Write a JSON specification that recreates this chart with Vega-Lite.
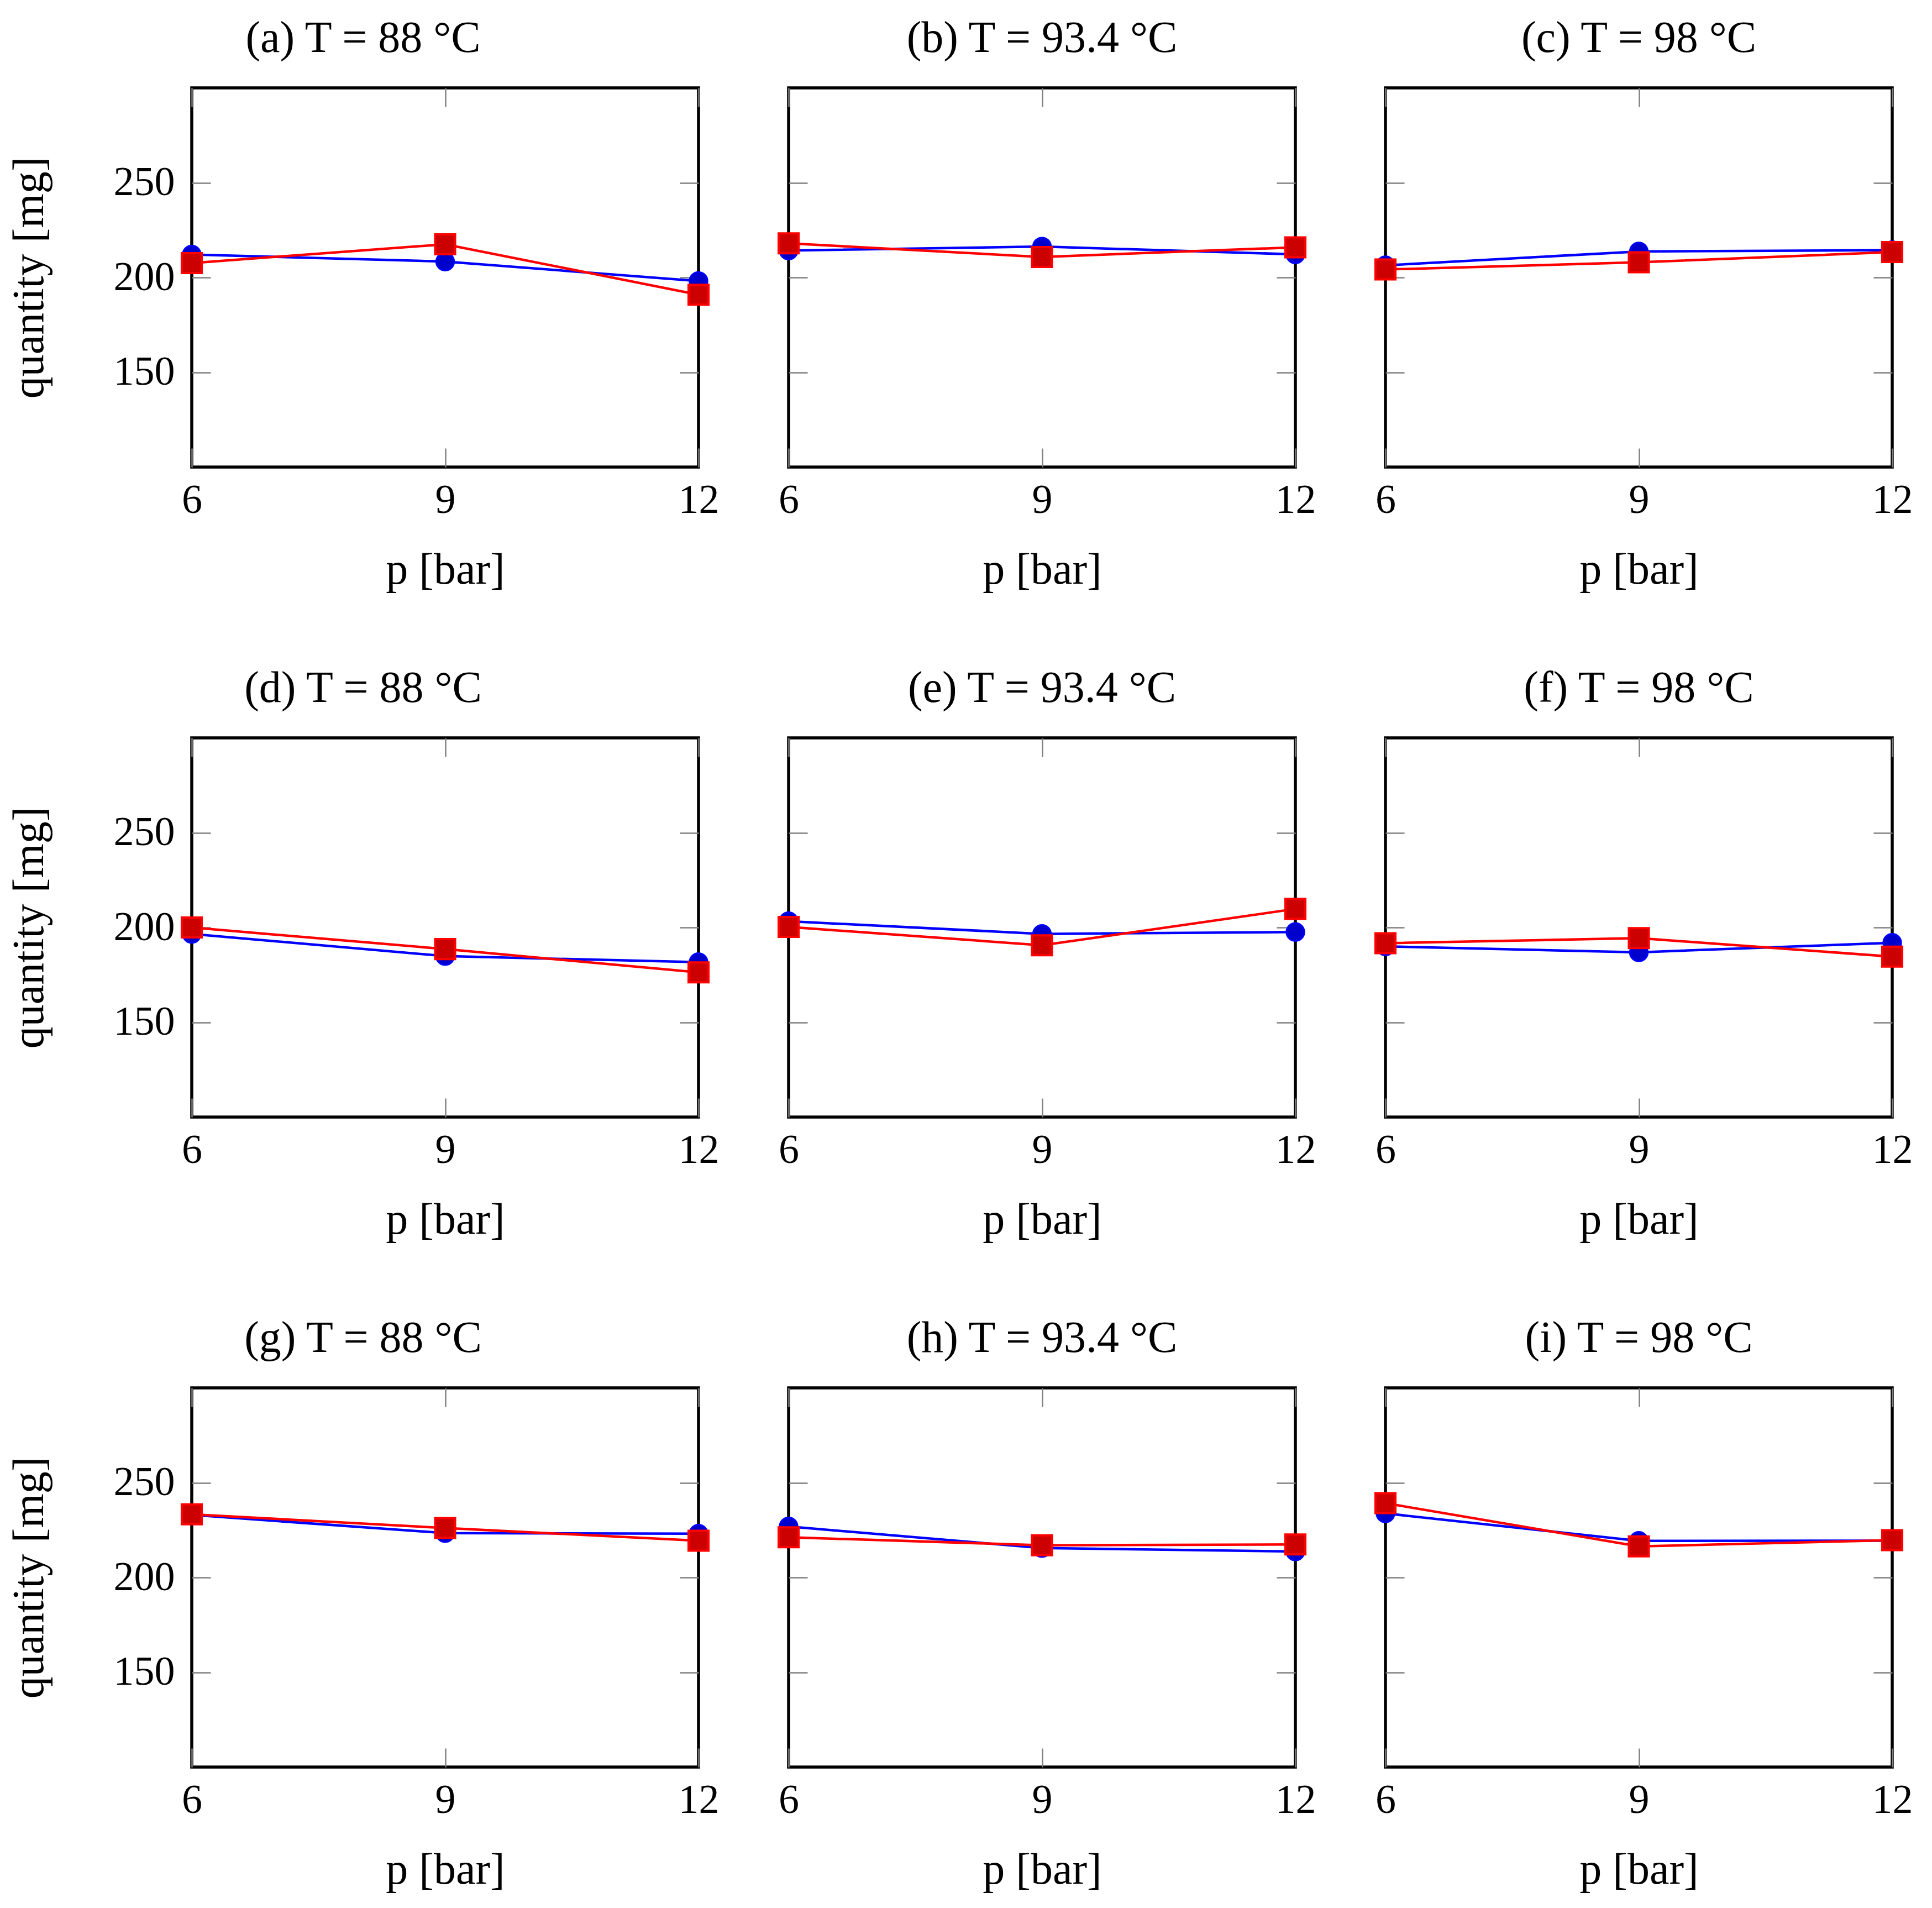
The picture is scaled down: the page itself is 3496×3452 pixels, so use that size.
{
  "$schema": "https://vega.github.io/schema/vega-lite/v6.json",
  "background": "white",
  "padding": {"left": 10, "top": 27, "right": 10, "bottom": 5},
  "data": {
    "values": [
      {"panel": "a", "series": "A", "p": 6, "q": 212.1},
      {"panel": "a", "series": "A", "p": 9, "q": 208.4},
      {"panel": "a", "series": "A", "p": 12, "q": 198.1},
      {"panel": "a", "series": "B", "p": 6, "q": 207.6},
      {"panel": "a", "series": "B", "p": 9, "q": 217.5},
      {"panel": "a", "series": "B", "p": 12, "q": 190.9},
      {"panel": "b", "series": "A", "p": 6, "q": 214.2},
      {"panel": "b", "series": "A", "p": 9, "q": 216.3},
      {"panel": "b", "series": "A", "p": 12, "q": 212.2},
      {"panel": "b", "series": "B", "p": 6, "q": 218.0},
      {"panel": "b", "series": "B", "p": 9, "q": 210.8},
      {"panel": "b", "series": "B", "p": 12, "q": 215.9},
      {"panel": "c", "series": "A", "p": 6, "q": 206.4},
      {"panel": "c", "series": "A", "p": 9, "q": 213.7},
      {"panel": "c", "series": "A", "p": 12, "q": 214.4},
      {"panel": "c", "series": "B", "p": 6, "q": 204.2},
      {"panel": "c", "series": "B", "p": 9, "q": 208.0},
      {"panel": "c", "series": "B", "p": 12, "q": 213.4},
      {"panel": "d", "series": "A", "p": 6, "q": 196.6},
      {"panel": "d", "series": "A", "p": 9, "q": 184.9},
      {"panel": "d", "series": "A", "p": 12, "q": 181.7},
      {"panel": "d", "series": "B", "p": 6, "q": 200.0},
      {"panel": "d", "series": "B", "p": 9, "q": 188.6},
      {"panel": "d", "series": "B", "p": 12, "q": 176.3},
      {"panel": "e", "series": "A", "p": 6, "q": 203.3},
      {"panel": "e", "series": "A", "p": 9, "q": 196.6},
      {"panel": "e", "series": "A", "p": 12, "q": 197.6},
      {"panel": "e", "series": "B", "p": 6, "q": 200.3},
      {"panel": "e", "series": "B", "p": 9, "q": 190.6},
      {"panel": "e", "series": "B", "p": 12, "q": 209.8},
      {"panel": "f", "series": "A", "p": 6, "q": 190.0},
      {"panel": "f", "series": "A", "p": 9, "q": 186.9},
      {"panel": "f", "series": "A", "p": 12, "q": 191.9},
      {"panel": "f", "series": "B", "p": 6, "q": 191.7},
      {"panel": "f", "series": "B", "p": 9, "q": 194.4},
      {"panel": "f", "series": "B", "p": 12, "q": 184.6},
      {"panel": "g", "series": "A", "p": 6, "q": 233.0},
      {"panel": "g", "series": "A", "p": 9, "q": 223.4},
      {"panel": "g", "series": "A", "p": 12, "q": 223.1},
      {"panel": "g", "series": "B", "p": 6, "q": 233.3},
      {"panel": "g", "series": "B", "p": 9, "q": 226.1},
      {"panel": "g", "series": "B", "p": 12, "q": 219.4},
      {"panel": "h", "series": "A", "p": 6, "q": 226.9},
      {"panel": "h", "series": "A", "p": 9, "q": 215.5},
      {"panel": "h", "series": "A", "p": 12, "q": 213.7},
      {"panel": "h", "series": "B", "p": 6, "q": 221.2},
      {"panel": "h", "series": "B", "p": 9, "q": 217.0},
      {"panel": "h", "series": "B", "p": 12, "q": 217.4},
      {"panel": "i", "series": "A", "p": 6, "q": 233.8},
      {"panel": "i", "series": "A", "p": 9, "q": 219.3},
      {"panel": "i", "series": "A", "p": 12, "q": 219.4},
      {"panel": "i", "series": "B", "p": 6, "q": 239.2},
      {"panel": "i", "series": "B", "p": 9, "q": 216.4},
      {"panel": "i", "series": "B", "p": 12, "q": 219.7}
    ]
  },
  "columns": 3,
  "bounds": "flush",
  "spacing": {"row": 490, "column": 163},
  "concat": [
    {
      "title": {"text": "(a) T = 88 °C", "frame": "bounds"},
      "width": 917, "height": 686,
      "transform": [{"filter": "datum.panel == 'a'"}],
      "encoding": {
        "x": {"field": "p", "type": "quantitative", "scale": {"domain": [6, 12]}, "axis": null},
        "y": {"field": "q", "type": "quantitative", "scale": {"domain": [100, 300]}, "axis": null}
      },
      "layer": [
        {"transform": [{"filter": "datum.series == 'A'"}], "mark": {"type": "line", "color": "#0000ff", "strokeWidth": 4.5},
         "encoding": {
           "x": {"field": "p", "type": "quantitative", "scale": {"domain": [6, 12]}, "axis": {"title": "p [bar]", "values": [6, 9, 12]}},
           "y": {"field": "q", "type": "quantitative", "scale": {"domain": [100, 300]}, "axis": {"title": "quantity [mg]", "values": [150, 200, 250]}}
         }},
        {"transform": [{"filter": "datum.series == 'A'"}], "mark": {"type": "point", "shape": "circle", "filled": true, "fill": "#0000cc", "stroke": "#0000ff", "strokeWidth": 3, "size": 1050, "opacity": 1}},
        {"transform": [{"filter": "datum.series == 'B'"}], "mark": {"type": "line", "color": "#ff0000", "strokeWidth": 4.5}},
        {"transform": [{"filter": "datum.series == 'B'"}], "mark": {"type": "square", "filled": true, "fill": "#cc0000", "stroke": "#ff0000", "strokeWidth": 4, "size": 1300, "opacity": 1},
         "encoding": {
           "x": {"field": "p", "type": "quantitative", "scale": {"domain": [6, 12]}, "axis": {"orient": "top", "values": [6, 9, 12], "labels": false, "title": null}},
           "y": {"field": "q", "type": "quantitative", "scale": {"domain": [100, 300]}, "axis": {"orient": "right", "values": [150, 200, 250], "labels": false, "title": null}}
         }}
      ],
      "resolve": {"axis": {"x": "independent", "y": "independent"}}
    },
    {
      "title": {"text": "(b) T = 93.4 °C"},
      "width": 917, "height": 686,
      "transform": [{"filter": "datum.panel == 'b'"}],
      "encoding": {
        "x": {"field": "p", "type": "quantitative", "scale": {"domain": [6, 12]}, "axis": null},
        "y": {"field": "q", "type": "quantitative", "scale": {"domain": [100, 300]}, "axis": null}
      },
      "layer": [
        {"transform": [{"filter": "datum.series == 'A'"}], "mark": {"type": "line", "color": "#0000ff", "strokeWidth": 4.5},
         "encoding": {
           "x": {"field": "p", "type": "quantitative", "scale": {"domain": [6, 12]}, "axis": {"title": "p [bar]", "values": [6, 9, 12]}},
           "y": {"field": "q", "type": "quantitative", "scale": {"domain": [100, 300]}, "axis": {"title": null, "labels": false, "values": [150, 200, 250]}}
         }},
        {"transform": [{"filter": "datum.series == 'A'"}], "mark": {"type": "point", "shape": "circle", "filled": true, "fill": "#0000cc", "stroke": "#0000ff", "strokeWidth": 3, "size": 1050, "opacity": 1}},
        {"transform": [{"filter": "datum.series == 'B'"}], "mark": {"type": "line", "color": "#ff0000", "strokeWidth": 4.5}},
        {"transform": [{"filter": "datum.series == 'B'"}], "mark": {"type": "square", "filled": true, "fill": "#cc0000", "stroke": "#ff0000", "strokeWidth": 4, "size": 1300, "opacity": 1},
         "encoding": {
           "x": {"field": "p", "type": "quantitative", "scale": {"domain": [6, 12]}, "axis": {"orient": "top", "values": [6, 9, 12], "labels": false, "title": null}},
           "y": {"field": "q", "type": "quantitative", "scale": {"domain": [100, 300]}, "axis": {"orient": "right", "values": [150, 200, 250], "labels": false, "title": null}}
         }}
      ],
      "resolve": {"axis": {"x": "independent", "y": "independent"}}
    },
    {
      "title": {"text": "(c) T = 98 °C"},
      "width": 917, "height": 686,
      "transform": [{"filter": "datum.panel == 'c'"}],
      "encoding": {
        "x": {"field": "p", "type": "quantitative", "scale": {"domain": [6, 12]}, "axis": null},
        "y": {"field": "q", "type": "quantitative", "scale": {"domain": [100, 300]}, "axis": null}
      },
      "layer": [
        {"transform": [{"filter": "datum.series == 'A'"}], "mark": {"type": "line", "color": "#0000ff", "strokeWidth": 4.5},
         "encoding": {
           "x": {"field": "p", "type": "quantitative", "scale": {"domain": [6, 12]}, "axis": {"title": "p [bar]", "values": [6, 9, 12]}},
           "y": {"field": "q", "type": "quantitative", "scale": {"domain": [100, 300]}, "axis": {"title": null, "labels": false, "values": [150, 200, 250]}}
         }},
        {"transform": [{"filter": "datum.series == 'A'"}], "mark": {"type": "point", "shape": "circle", "filled": true, "fill": "#0000cc", "stroke": "#0000ff", "strokeWidth": 3, "size": 1050, "opacity": 1}},
        {"transform": [{"filter": "datum.series == 'B'"}], "mark": {"type": "line", "color": "#ff0000", "strokeWidth": 4.5}},
        {"transform": [{"filter": "datum.series == 'B'"}], "mark": {"type": "square", "filled": true, "fill": "#cc0000", "stroke": "#ff0000", "strokeWidth": 4, "size": 1300, "opacity": 1},
         "encoding": {
           "x": {"field": "p", "type": "quantitative", "scale": {"domain": [6, 12]}, "axis": {"orient": "top", "values": [6, 9, 12], "labels": false, "title": null}},
           "y": {"field": "q", "type": "quantitative", "scale": {"domain": [100, 300]}, "axis": {"orient": "right", "values": [150, 200, 250], "labels": false, "title": null}}
         }}
      ],
      "resolve": {"axis": {"x": "independent", "y": "independent"}}
    },
    {
      "title": {"text": "(d) T = 88 °C", "frame": "bounds"},
      "width": 917, "height": 686,
      "transform": [{"filter": "datum.panel == 'd'"}],
      "encoding": {
        "x": {"field": "p", "type": "quantitative", "scale": {"domain": [6, 12]}, "axis": null},
        "y": {"field": "q", "type": "quantitative", "scale": {"domain": [100, 300]}, "axis": null}
      },
      "layer": [
        {"transform": [{"filter": "datum.series == 'A'"}], "mark": {"type": "line", "color": "#0000ff", "strokeWidth": 4.5},
         "encoding": {
           "x": {"field": "p", "type": "quantitative", "scale": {"domain": [6, 12]}, "axis": {"title": "p [bar]", "values": [6, 9, 12]}},
           "y": {"field": "q", "type": "quantitative", "scale": {"domain": [100, 300]}, "axis": {"title": "quantity [mg]", "values": [150, 200, 250]}}
         }},
        {"transform": [{"filter": "datum.series == 'A'"}], "mark": {"type": "point", "shape": "circle", "filled": true, "fill": "#0000cc", "stroke": "#0000ff", "strokeWidth": 3, "size": 1050, "opacity": 1}},
        {"transform": [{"filter": "datum.series == 'B'"}], "mark": {"type": "line", "color": "#ff0000", "strokeWidth": 4.5}},
        {"transform": [{"filter": "datum.series == 'B'"}], "mark": {"type": "square", "filled": true, "fill": "#cc0000", "stroke": "#ff0000", "strokeWidth": 4, "size": 1300, "opacity": 1},
         "encoding": {
           "x": {"field": "p", "type": "quantitative", "scale": {"domain": [6, 12]}, "axis": {"orient": "top", "values": [6, 9, 12], "labels": false, "title": null}},
           "y": {"field": "q", "type": "quantitative", "scale": {"domain": [100, 300]}, "axis": {"orient": "right", "values": [150, 200, 250], "labels": false, "title": null}}
         }}
      ],
      "resolve": {"axis": {"x": "independent", "y": "independent"}}
    },
    {
      "title": {"text": "(e) T = 93.4 °C"},
      "width": 917, "height": 686,
      "transform": [{"filter": "datum.panel == 'e'"}],
      "encoding": {
        "x": {"field": "p", "type": "quantitative", "scale": {"domain": [6, 12]}, "axis": null},
        "y": {"field": "q", "type": "quantitative", "scale": {"domain": [100, 300]}, "axis": null}
      },
      "layer": [
        {"transform": [{"filter": "datum.series == 'A'"}], "mark": {"type": "line", "color": "#0000ff", "strokeWidth": 4.5},
         "encoding": {
           "x": {"field": "p", "type": "quantitative", "scale": {"domain": [6, 12]}, "axis": {"title": "p [bar]", "values": [6, 9, 12]}},
           "y": {"field": "q", "type": "quantitative", "scale": {"domain": [100, 300]}, "axis": {"title": null, "labels": false, "values": [150, 200, 250]}}
         }},
        {"transform": [{"filter": "datum.series == 'A'"}], "mark": {"type": "point", "shape": "circle", "filled": true, "fill": "#0000cc", "stroke": "#0000ff", "strokeWidth": 3, "size": 1050, "opacity": 1}},
        {"transform": [{"filter": "datum.series == 'B'"}], "mark": {"type": "line", "color": "#ff0000", "strokeWidth": 4.5}},
        {"transform": [{"filter": "datum.series == 'B'"}], "mark": {"type": "square", "filled": true, "fill": "#cc0000", "stroke": "#ff0000", "strokeWidth": 4, "size": 1300, "opacity": 1},
         "encoding": {
           "x": {"field": "p", "type": "quantitative", "scale": {"domain": [6, 12]}, "axis": {"orient": "top", "values": [6, 9, 12], "labels": false, "title": null}},
           "y": {"field": "q", "type": "quantitative", "scale": {"domain": [100, 300]}, "axis": {"orient": "right", "values": [150, 200, 250], "labels": false, "title": null}}
         }}
      ],
      "resolve": {"axis": {"x": "independent", "y": "independent"}}
    },
    {
      "title": {"text": "(f) T = 98 °C"},
      "width": 917, "height": 686,
      "transform": [{"filter": "datum.panel == 'f'"}],
      "encoding": {
        "x": {"field": "p", "type": "quantitative", "scale": {"domain": [6, 12]}, "axis": null},
        "y": {"field": "q", "type": "quantitative", "scale": {"domain": [100, 300]}, "axis": null}
      },
      "layer": [
        {"transform": [{"filter": "datum.series == 'A'"}], "mark": {"type": "line", "color": "#0000ff", "strokeWidth": 4.5},
         "encoding": {
           "x": {"field": "p", "type": "quantitative", "scale": {"domain": [6, 12]}, "axis": {"title": "p [bar]", "values": [6, 9, 12]}},
           "y": {"field": "q", "type": "quantitative", "scale": {"domain": [100, 300]}, "axis": {"title": null, "labels": false, "values": [150, 200, 250]}}
         }},
        {"transform": [{"filter": "datum.series == 'A'"}], "mark": {"type": "point", "shape": "circle", "filled": true, "fill": "#0000cc", "stroke": "#0000ff", "strokeWidth": 3, "size": 1050, "opacity": 1}},
        {"transform": [{"filter": "datum.series == 'B'"}], "mark": {"type": "line", "color": "#ff0000", "strokeWidth": 4.5}},
        {"transform": [{"filter": "datum.series == 'B'"}], "mark": {"type": "square", "filled": true, "fill": "#cc0000", "stroke": "#ff0000", "strokeWidth": 4, "size": 1300, "opacity": 1},
         "encoding": {
           "x": {"field": "p", "type": "quantitative", "scale": {"domain": [6, 12]}, "axis": {"orient": "top", "values": [6, 9, 12], "labels": false, "title": null}},
           "y": {"field": "q", "type": "quantitative", "scale": {"domain": [100, 300]}, "axis": {"orient": "right", "values": [150, 200, 250], "labels": false, "title": null}}
         }}
      ],
      "resolve": {"axis": {"x": "independent", "y": "independent"}}
    },
    {
      "title": {"text": "(g) T = 88 °C", "frame": "bounds"},
      "width": 917, "height": 686,
      "transform": [{"filter": "datum.panel == 'g'"}],
      "encoding": {
        "x": {"field": "p", "type": "quantitative", "scale": {"domain": [6, 12]}, "axis": null},
        "y": {"field": "q", "type": "quantitative", "scale": {"domain": [100, 300]}, "axis": null}
      },
      "layer": [
        {"transform": [{"filter": "datum.series == 'A'"}], "mark": {"type": "line", "color": "#0000ff", "strokeWidth": 4.5},
         "encoding": {
           "x": {"field": "p", "type": "quantitative", "scale": {"domain": [6, 12]}, "axis": {"title": "p [bar]", "values": [6, 9, 12]}},
           "y": {"field": "q", "type": "quantitative", "scale": {"domain": [100, 300]}, "axis": {"title": "quantity [mg]", "values": [150, 200, 250]}}
         }},
        {"transform": [{"filter": "datum.series == 'A'"}], "mark": {"type": "point", "shape": "circle", "filled": true, "fill": "#0000cc", "stroke": "#0000ff", "strokeWidth": 3, "size": 1050, "opacity": 1}},
        {"transform": [{"filter": "datum.series == 'B'"}], "mark": {"type": "line", "color": "#ff0000", "strokeWidth": 4.5}},
        {"transform": [{"filter": "datum.series == 'B'"}], "mark": {"type": "square", "filled": true, "fill": "#cc0000", "stroke": "#ff0000", "strokeWidth": 4, "size": 1300, "opacity": 1},
         "encoding": {
           "x": {"field": "p", "type": "quantitative", "scale": {"domain": [6, 12]}, "axis": {"orient": "top", "values": [6, 9, 12], "labels": false, "title": null}},
           "y": {"field": "q", "type": "quantitative", "scale": {"domain": [100, 300]}, "axis": {"orient": "right", "values": [150, 200, 250], "labels": false, "title": null}}
         }}
      ],
      "resolve": {"axis": {"x": "independent", "y": "independent"}}
    },
    {
      "title": {"text": "(h) T = 93.4 °C"},
      "width": 917, "height": 686,
      "transform": [{"filter": "datum.panel == 'h'"}],
      "encoding": {
        "x": {"field": "p", "type": "quantitative", "scale": {"domain": [6, 12]}, "axis": null},
        "y": {"field": "q", "type": "quantitative", "scale": {"domain": [100, 300]}, "axis": null}
      },
      "layer": [
        {"transform": [{"filter": "datum.series == 'A'"}], "mark": {"type": "line", "color": "#0000ff", "strokeWidth": 4.5},
         "encoding": {
           "x": {"field": "p", "type": "quantitative", "scale": {"domain": [6, 12]}, "axis": {"title": "p [bar]", "values": [6, 9, 12]}},
           "y": {"field": "q", "type": "quantitative", "scale": {"domain": [100, 300]}, "axis": {"title": null, "labels": false, "values": [150, 200, 250]}}
         }},
        {"transform": [{"filter": "datum.series == 'A'"}], "mark": {"type": "point", "shape": "circle", "filled": true, "fill": "#0000cc", "stroke": "#0000ff", "strokeWidth": 3, "size": 1050, "opacity": 1}},
        {"transform": [{"filter": "datum.series == 'B'"}], "mark": {"type": "line", "color": "#ff0000", "strokeWidth": 4.5}},
        {"transform": [{"filter": "datum.series == 'B'"}], "mark": {"type": "square", "filled": true, "fill": "#cc0000", "stroke": "#ff0000", "strokeWidth": 4, "size": 1300, "opacity": 1},
         "encoding": {
           "x": {"field": "p", "type": "quantitative", "scale": {"domain": [6, 12]}, "axis": {"orient": "top", "values": [6, 9, 12], "labels": false, "title": null}},
           "y": {"field": "q", "type": "quantitative", "scale": {"domain": [100, 300]}, "axis": {"orient": "right", "values": [150, 200, 250], "labels": false, "title": null}}
         }}
      ],
      "resolve": {"axis": {"x": "independent", "y": "independent"}}
    },
    {
      "title": {"text": "(i) T = 98 °C"},
      "width": 917, "height": 686,
      "transform": [{"filter": "datum.panel == 'i'"}],
      "encoding": {
        "x": {"field": "p", "type": "quantitative", "scale": {"domain": [6, 12]}, "axis": null},
        "y": {"field": "q", "type": "quantitative", "scale": {"domain": [100, 300]}, "axis": null}
      },
      "layer": [
        {"transform": [{"filter": "datum.series == 'A'"}], "mark": {"type": "line", "color": "#0000ff", "strokeWidth": 4.5},
         "encoding": {
           "x": {"field": "p", "type": "quantitative", "scale": {"domain": [6, 12]}, "axis": {"title": "p [bar]", "values": [6, 9, 12]}},
           "y": {"field": "q", "type": "quantitative", "scale": {"domain": [100, 300]}, "axis": {"title": null, "labels": false, "values": [150, 200, 250]}}
         }},
        {"transform": [{"filter": "datum.series == 'A'"}], "mark": {"type": "point", "shape": "circle", "filled": true, "fill": "#0000cc", "stroke": "#0000ff", "strokeWidth": 3, "size": 1050, "opacity": 1}},
        {"transform": [{"filter": "datum.series == 'B'"}], "mark": {"type": "line", "color": "#ff0000", "strokeWidth": 4.5}},
        {"transform": [{"filter": "datum.series == 'B'"}], "mark": {"type": "square", "filled": true, "fill": "#cc0000", "stroke": "#ff0000", "strokeWidth": 4, "size": 1300, "opacity": 1},
         "encoding": {
           "x": {"field": "p", "type": "quantitative", "scale": {"domain": [6, 12]}, "axis": {"orient": "top", "values": [6, 9, 12], "labels": false, "title": null}},
           "y": {"field": "q", "type": "quantitative", "scale": {"domain": [100, 300]}, "axis": {"orient": "right", "values": [150, 200, 250], "labels": false, "title": null}}
         }}
      ],
      "resolve": {"axis": {"x": "independent", "y": "independent"}}
    }
  ],
  "config": {
    "font": "Liberation Serif",
    "view": {"stroke": "black", "strokeWidth": 5.5},
    "axis": {
      "domain": false, "grid": false,
      "tickColor": "#808080", "tickSize": -34, "tickWidth": 2.5,
      "labelFont": "Liberation Serif", "labelFontSize": 74, "labelColor": "black",
      "titleFont": "Liberation Serif", "titleFontSize": 80, "titleFontWeight": "normal", "titleColor": "black"
    },
    "axisX": {"labelPadding": 58, "titlePadding": 50, "labelFlush": false},
    "axisY": {"labelPadding": 65, "titlePadding": 111},
    "title": {"font": "Liberation Serif", "fontSize": 80, "fontWeight": "normal", "color": "black", "anchor": "middle", "baseline": "alphabetic", "offset": 47, "frame": "group"}
  }
}
